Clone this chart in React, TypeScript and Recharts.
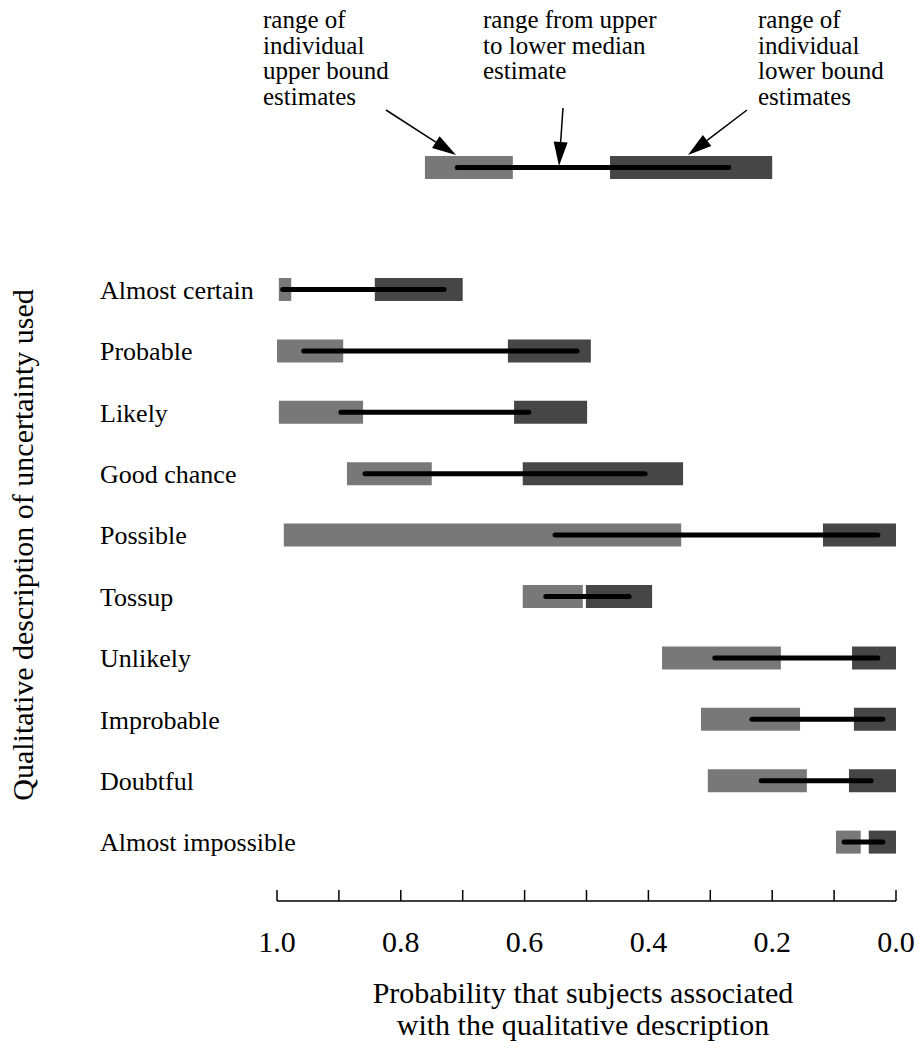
import { ComposedChart, Bar, XAxis, YAxis } from "recharts";

const SERIF = '"Liberation Serif", "Times New Roman", serif';
const LIGHT = "#787878";
const DARK = "#464646";

const CATEGORIES = [
  "Almost certain",
  "Probable",
  "Likely",
  "Good chance",
  "Possible",
  "Tossup",
  "Unlikely",
  "Improbable",
  "Doubtful",
  "Almost impossible",
];

// range of individual upper bound estimates
const UPPER_FROM = [0.997, 1.0, 0.997, 0.887, 0.989, 0.603, 0.378, 0.315, 0.304, 0.097];
const UPPER_TO = [0.977, 0.893, 0.861, 0.75, 0.347, 0.506, 0.186, 0.155, 0.144, 0.057];

// range of individual lower bound estimates
const LOWER_FROM = [0.842, 0.627, 0.617, 0.603, 0.118, 0.501, 0.071, 0.068, 0.076, 0.044];
const LOWER_TO = [0.7, 0.493, 0.499, 0.344, 0.0, 0.394, 0.0, 0.0, 0.0, 0.0];

// upper median -> lower median
const MEDIAN_UPPER = [0.994, 0.96, 0.9, 0.861, 0.554, 0.569, 0.296, 0.236, 0.221, 0.087];
const MEDIAN_LOWER = [0.727, 0.512, 0.59, 0.402, 0.026, 0.428, 0.026, 0.018, 0.037, 0.018];

// the key drawn above the chart
const KEY_UPPER = [0.761, 0.619];
const KEY_LOWER = [0.462, 0.2];
const KEY_MEDIAN = [0.712, 0.267];

const X_TICKS = [0, 0.1, 0.2, 0.3, 0.4, 0.5, 0.6, 0.7, 0.8, 0.9, 1.0];
const LABELED_TICKS = [0, 0.2, 0.4, 0.6, 0.8, 1.0];

const rows = CATEGORIES.map((name, i) => ({
  name,
  upper: [UPPER_FROM[i], UPPER_TO[i]],
  lower: [LOWER_FROM[i], LOWER_TO[i]],
  median: [MEDIAN_UPPER[i], MEDIAN_LOWER[i]],
}));

const keyRow = [{ name: "key", upper: KEY_UPPER, lower: KEY_LOWER, median: KEY_MEDIAN }];

function MedianLine(props: any) {
  const { x, y, width, height } = props;
  const x1 = Math.min(x, x + width);
  const x2 = Math.max(x, x + width);
  const cy = y + height / 2;
  return (
    <line x1={x1 + 2} x2={x2 - 2} y1={cy} y2={cy} stroke="#000" strokeWidth={5} strokeLinecap="round" />
  );
}

function XTick({ x, y, payload }: any) {
  const v = payload.value as number;
  const labeled = LABELED_TICKS.some((t) => Math.abs(t - v) < 1e-6);
  return (
    <g>
      <line x1={x} x2={x} y1={y - 11} y2={y} stroke="#000" strokeWidth={1.5} />
      {labeled && (
        <text x={x} y={y + 51} textAnchor="middle" fontFamily={SERIF} fontSize={30} fill="#000">
          {v.toFixed(1)}
        </text>
      )}
    </g>
  );
}

function YTick({ y, payload }: any) {
  return (
    <text x={100} y={y} dy={9} textAnchor="start" fontFamily={SERIF} fontSize={26} fill="#000">
      {payload.value}
    </text>
  );
}

const PAD = { top: 0, bottom: 28 };

function Arrow({ x1, y1, x2, y2 }: { x1: number; y1: number; x2: number; y2: number }) {
  const len = Math.hypot(x2 - x1, y2 - y1);
  const ux = (x2 - x1) / len;
  const uy = (y2 - y1) / len;
  const hl = 24;
  const hw = 7;
  const bx = x2 - ux * hl;
  const by = y2 - uy * hl;
  return (
    <g>
      <line x1={x1} y1={y1} x2={bx} y2={by} stroke="#000" strokeWidth={1.5} />
      <polygon
        points={`${x2},${y2} ${bx - uy * hw},${by + ux * hw} ${bx + uy * hw},${by - ux * hw}`}
        fill="#000"
      />
    </g>
  );
}

const NOTE_LEFT = ["range of", "individual", "upper bound", "estimates"];
const NOTE_MID = ["range from upper", "to lower median", "estimate"];
const NOTE_RIGHT = ["range of", "individual", "lower bound", "estimates"];

function Note({ x, lines }: { x: number; lines: string[] }) {
  return (
    <text fontFamily={SERIF} fontSize={25} fill="#000">
      {lines.map((l, i) => (
        <tspan key={i} x={x} y={28 + i * 25.5}>
          {l}
        </tspan>
      ))}
    </text>
  );
}

export default function App() {
  return (
    <div style={{ position: "absolute", left: 0, top: 0, width: 918, height: 1041, background: "#fff" }}>
      <div style={{ position: "absolute", left: 0, top: 137 }}>
        <ComposedChart width={918} height={60} data={keyRow} layout="vertical" margin={{ top: 0, right: 22, bottom: 0, left: 277 }}>
          <XAxis type="number" domain={[0, 1]} reversed hide />
          <YAxis type="category" dataKey="name" yAxisId="a" hide />
          <YAxis type="category" dataKey="name" yAxisId="b" hide />
          <YAxis type="category" dataKey="name" yAxisId="c" hide />
          <Bar dataKey="upper" yAxisId="a" fill={LIGHT} barSize={23} isAnimationActive={false} />
          <Bar dataKey="lower" yAxisId="b" fill={DARK} barSize={23} isAnimationActive={false} />
          <Bar dataKey="median" yAxisId="c" barSize={23} shape={<MedianLine />} isAnimationActive={false} />
        </ComposedChart>
      </div>
      <div style={{ position: "absolute", left: 0, top: 0 }}>
        <ComposedChart width={918} height={1041} data={rows} layout="vertical" margin={{ top: 259, right: 22, bottom: 80, left: 0 }}>
          <XAxis
            type="number"
            domain={[0, 1]}
            reversed
            ticks={X_TICKS}
            interval={0}
            height={60}
            tickSize={0}
            tickMargin={0}
            tickLine={false}
            axisLine={{ stroke: "#000", strokeWidth: 1.5 }}
            tick={<XTick />}
          />
          <YAxis
            type="category"
            dataKey="name"
            yAxisId="a"
            width={277}
            padding={PAD}
            axisLine={false}
            tickLine={false}
            interval={0}
            tick={<YTick />}
          />
          <YAxis type="category" dataKey="name" yAxisId="b" hide padding={PAD} />
          <YAxis type="category" dataKey="name" yAxisId="c" hide padding={PAD} />
          <Bar dataKey="upper" yAxisId="a" fill={LIGHT} barSize={23} isAnimationActive={false} />
          <Bar dataKey="lower" yAxisId="b" fill={DARK} barSize={23} isAnimationActive={false} />
          <Bar dataKey="median" yAxisId="c" barSize={23} shape={<MedianLine />} isAnimationActive={false} />
        </ComposedChart>
      </div>
      <svg width={918} height={1041} style={{ position: "absolute", left: 0, top: 0, pointerEvents: "none" }}>
        <Note x={263} lines={NOTE_LEFT} />
        <Note x={483} lines={NOTE_MID} />
        <Note x={758} lines={NOTE_RIGHT} />
        <Arrow x1={386} y1={110} x2={456} y2={155} />
        <Arrow x1={563} y1={108} x2={559} y2={166} />
        <Arrow x1={747} y1={110} x2={688} y2={155} />
        <text
          transform="translate(22,545) rotate(-90)"
          textAnchor="middle"
          dominantBaseline="central"
          fontFamily={SERIF}
          fontSize={30}
          fill="#000"
        >
          Qualitative description of uncertainty used
        </text>
        <text textAnchor="middle" fontFamily={SERIF} fontSize={30} fill="#000">
          <tspan x={583} y={1003}>Probability that subjects associated</tspan>
          <tspan x={583} y={1035}>with the qualitative description</tspan>
        </text>
      </svg>
    </div>
  );
}
